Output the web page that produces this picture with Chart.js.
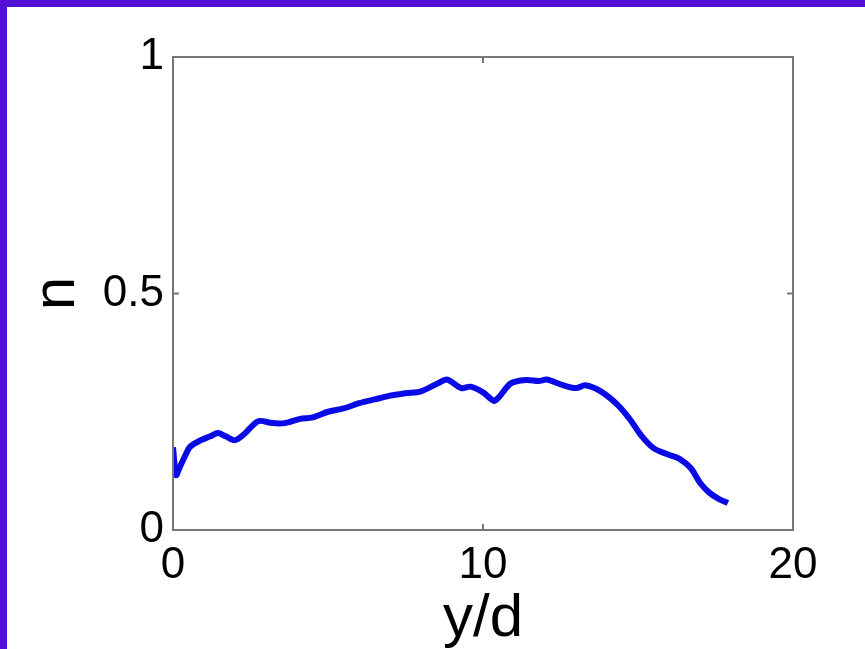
<!DOCTYPE html>
<html>
<head>
<meta charset="utf-8">
<script src="https://cdn.jsdelivr.net/npm/chart.js@4/dist/chart.umd.min.js"></script>
<style>
  html, body { margin: 0; padding: 0; width: 865px; height: 649px; overflow: hidden; background: #5510d8; }
  #wrap { position: absolute; left: 7px; top: 7px; width: 858px; height: 642px; background: #ffffff; }
  canvas { display: block; }
</style>
</head>
<body>
<div id="wrap"><canvas id="c" width="858" height="642"></canvas></div>
<script>
// y/d positions
const yOverD = [0.0, 0.1, 0.2, 0.4, 0.55, 0.9, 1.2, 1.45, 1.7, 2.0, 2.3, 2.75, 3.2, 3.6, 4.1, 4.5, 5.0, 5.5, 6.0, 6.5, 7.0, 7.5, 8.0, 8.6, 8.85, 9.3, 9.6, 10.0, 10.35, 10.5, 10.9, 11.4, 11.8, 12.05, 12.5, 13.0, 13.3, 13.8, 14.35, 14.75, 15.1, 15.5, 15.95, 16.35, 16.7, 17.0, 17.3, 17.6, 17.9];
// n values
const nValues = [0.175, 0.116, 0.13, 0.158, 0.176, 0.19, 0.198, 0.205, 0.198, 0.19, 0.203, 0.23, 0.226, 0.226, 0.235, 0.238, 0.250, 0.257, 0.268, 0.276, 0.284, 0.289, 0.293, 0.312, 0.318, 0.300, 0.303, 0.291, 0.273, 0.28, 0.31, 0.317, 0.315, 0.318, 0.308, 0.300, 0.306, 0.293, 0.264, 0.233, 0.20, 0.173, 0.16, 0.15, 0.131, 0.10, 0.079, 0.066, 0.057];
const xTicks = [0, 10, 20];
const yTicks = [0, 0.5, 1];
const xTitle = 'y/d';
const yTitle = 'n';

const FONT = '"Liberation Sans", Arial, Helvetica, sans-serif';

const boxPlugin = {
  id: 'box',
  afterDatasetsDraw(chart) {
    const {ctx, chartArea: a, scales} = chart;
    ctx.save();
    ctx.strokeStyle = '#777777';
    ctx.lineWidth = 2;
    ctx.strokeRect(a.left, a.top, a.right - a.left, a.bottom - a.top);
    const tl = 6;
    ctx.beginPath();
    scales.x.ticks.forEach(t => {
      const px = scales.x.getPixelForValue(t.value);
      ctx.moveTo(px, a.bottom); ctx.lineTo(px, a.bottom - tl);
      ctx.moveTo(px, a.top); ctx.lineTo(px, a.top + tl);
    });
    scales.y.ticks.forEach(t => {
      const py = scales.y.getPixelForValue(t.value);
      ctx.moveTo(a.left, py); ctx.lineTo(a.left + tl, py);
      ctx.moveTo(a.right, py); ctx.lineTo(a.right - tl, py);
    });
    ctx.stroke();
    ctx.restore();
  }
};

new Chart(document.getElementById('c'), {
  type: 'line',
  data: {
    datasets: [{
      data: yOverD.map((x, i) => ({x: x, y: nValues[i]})),
      borderColor: '#0a0ae6',
      borderWidth: 6,
      pointRadius: 0,
      tension: 0.3,
      fill: false
    }]
  },
  options: {
    responsive: false,
    animation: false,
    events: [],
    layout: { padding: { top: 50, right: 72, left: 0, bottom: 0 } },
    plugins: { legend: { display: false }, tooltip: { enabled: false } },
    scales: {
      x: {
        type: 'linear',
        min: 0, max: 20,
        afterBuildTicks: s => { s.ticks = xTicks.map(v => ({value: v})); },
        afterFit: s => { s.height = 119; },
        grid: { display: false, drawTicks: false },
        border: { display: false },
        ticks: { color: '#000', font: { family: FONT, size: 44 }, padding: 9, maxRotation: 0 },
        title: { display: true, text: xTitle, color: '#000', font: { family: FONT, size: 60, lineHeight: 1 }, padding: { top: 3, bottom: 0 } }
      },
      y: {
        type: 'linear',
        min: 0, max: 1,
        afterBuildTicks: s => { s.ticks = yTicks.map(v => ({value: v})); },
        afterFit: s => { s.width = 166; },
        grid: { display: false, drawTicks: false },
        border: { display: false },
        ticks: { color: '#000', font: { family: FONT, size: 44 }, padding: 9, callback: v => String(v) },
        title: { display: true, text: yTitle, color: '#000', font: { family: FONT, size: 60, lineHeight: 1 }, padding: { top: 20, bottom: 0 } }
      }
    }
  },
  plugins: [boxPlugin]
});
</script>
</body>
</html>
